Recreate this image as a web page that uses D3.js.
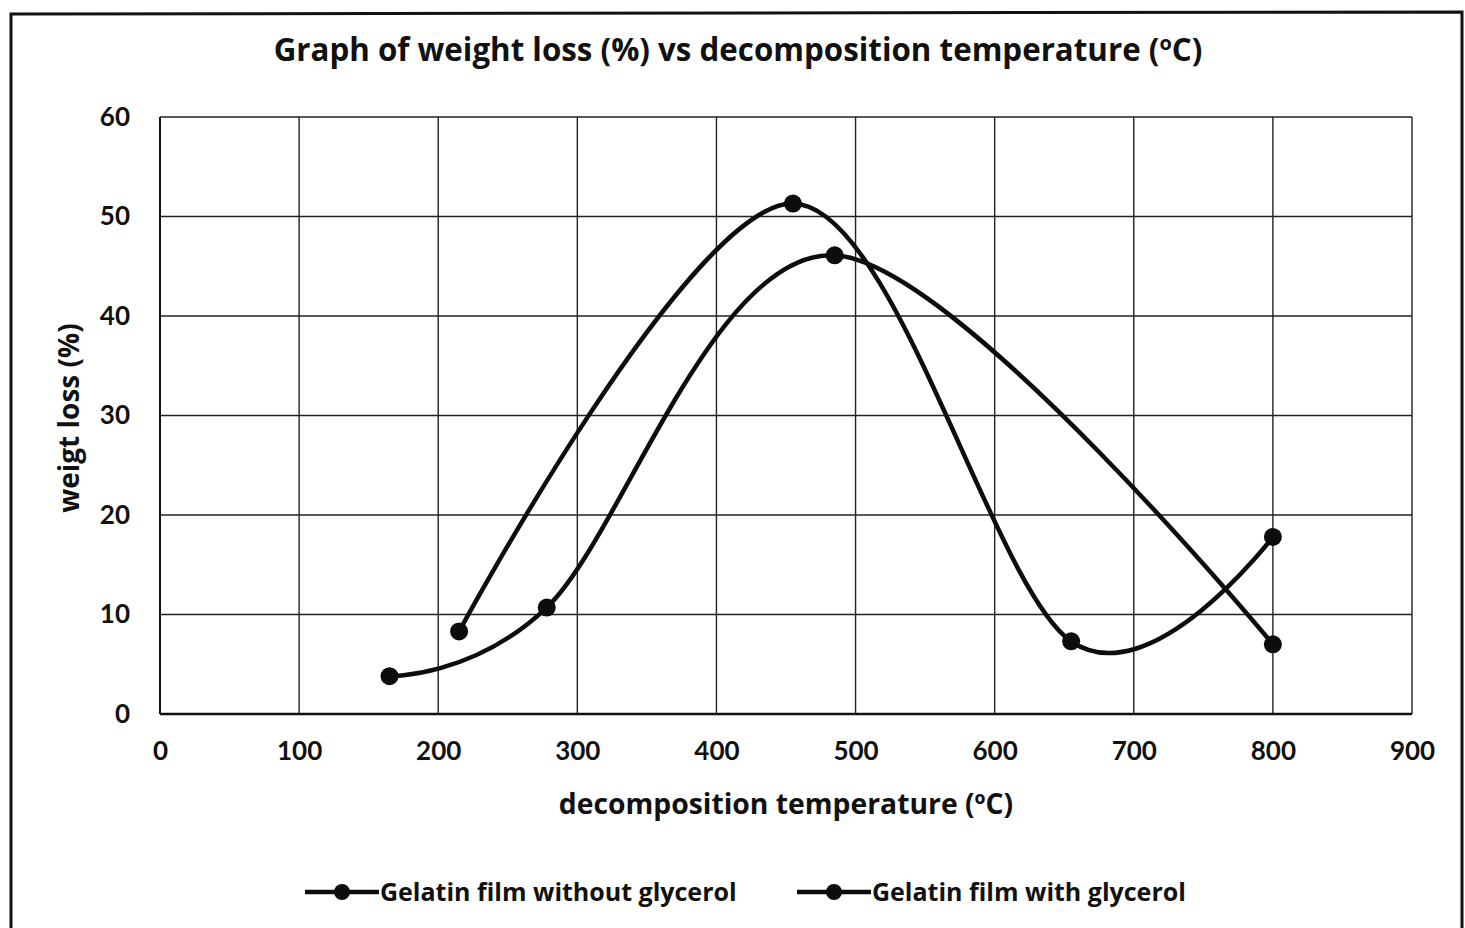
<html>
<head>
  <script src="https://d3js.org/d3.v7.min.js"></script>
  <style>
    body { margin: 0; background: #fff; }
    text { font-family: "Open Sans", Lato, sans-serif; font-weight: bold; fill: #111; }
  </style>
</head>
<body>
  <div id="chart"></div>
  <script>
    const xTicks = [0, 100, 200, 300, 400, 500, 600, 700, 800, 900];
    const yTicks = [0, 10, 20, 30, 40, 50, 60];

    const withoutTemp = [215, 455, 655, 800];
    const withoutLoss = [8.3, 51.3, 7.3, 17.8];
    const withTemp = [165, 278, 485, 800];
    const withLoss = [3.8, 10.7, 46.1, 7.0];

    const seriesNames = ["Gelatin film without glycerol", "Gelatin film with glycerol"];

    const w = 1465, h = 928;
    const plotLeft = 160, plotRight = 1412, plotTop = 117, plotBottom = 714;

    const svg = d3.select("#chart").append("svg")
      .attr("width", w).attr("height", h);

    // outer frame
    svg.append("path")
      .attr("d", "M11,935 L11,14 L1462,12 L1462,935")
      .attr("fill", "none").attr("stroke", "#111").attr("stroke-width", 3);

    const xScale = d3.scaleLinear().domain([0, 900]).range([plotLeft, plotRight]);
    const yScale = d3.scaleLinear().domain([0, 60]).range([plotBottom, plotTop]);

    // grid
    svg.append("g").selectAll("line").data(xTicks).enter().append("line")
      .attr("x1", d => xScale(d)).attr("x2", d => xScale(d))
      .attr("y1", plotTop).attr("y2", plotBottom)
      .attr("stroke", "#222").attr("stroke-width", 1.4);
    svg.append("g").selectAll("line").data(yTicks).enter().append("line")
      .attr("x1", plotLeft).attr("x2", plotRight)
      .attr("y1", d => yScale(d)).attr("y2", d => yScale(d))
      .attr("stroke", "#222").attr("stroke-width", 1.4);
    svg.append("line")
      .attr("x1", plotLeft).attr("x2", plotRight).attr("y1", plotBottom).attr("y2", plotBottom)
      .attr("stroke", "#111").attr("stroke-width", 2.5);
    svg.append("line")
      .attr("x1", plotLeft).attr("x2", plotLeft).attr("y1", plotTop).attr("y2", plotBottom)
      .attr("stroke", "#111").attr("stroke-width", 2);

    // axes labels
    const xAxis = d3.axisBottom(xScale).tickValues(xTicks).tickSize(0).tickPadding(28);
    const yAxis = d3.axisLeft(yScale).tickValues(yTicks).tickSize(0).tickPadding(30);
    const gx = svg.append("g").attr("transform", "translate(0," + plotBottom + ")").call(xAxis);
    const gy = svg.append("g").attr("transform", "translate(" + plotLeft + ",0)").call(yAxis);
    [gx, gy].forEach(g => {
      g.select(".domain").remove();
      g.selectAll("text").style("font-size", "26px").style("font-family", "Lato, 'Open Sans', sans-serif")
        .style("font-weight", "bold").attr("fill", "#111");
    });

    // titles
    const title = svg.append("text").attr("x", 738).attr("y", 61)
      .attr("text-anchor", "middle").style("font-size", "31.3px")
      .text("Graph of weight loss (%) vs decomposition temperature (");
    title.append("tspan").attr("dy", -11).style("font-size", "20px").text("o");
    title.append("tspan").attr("dy", 11).text("C)");

    svg.append("text").attr("x", 786).attr("y", 814)
      .attr("text-anchor", "middle").style("font-size", "28.3px")
      .text("decomposition temperature (\u00BAC)");

    svg.append("text")
      .attr("transform", "translate(79,418) rotate(-90)")
      .attr("text-anchor", "middle").style("font-size", "28px")
      .text("weigt loss (%)");

    // series
    const series = [
      withoutTemp.map((t, i) => [t, withoutLoss[i]]),
      withTemp.map((t, i) => [t, withLoss[i]])
    ];
    const line = d3.line()
      .x(d => xScale(d[0])).y(d => yScale(d[1]))
      .curve(d3.curveCardinal.tension(0));

    series.forEach(s => {
      svg.append("path").datum(s)
        .attr("d", line).attr("fill", "none")
        .attr("stroke", "#0d0d0d").attr("stroke-width", 4.5);
      svg.append("g").selectAll("circle").data(s).enter().append("circle")
        .attr("cx", d => xScale(d[0])).attr("cy", d => yScale(d[1]))
        .attr("r", 9).attr("fill", "#0d0d0d");
    });

    // legend
    const legendX = [305, 797];
    const legend = svg.selectAll(".legend").data(seriesNames).enter().append("g")
      .attr("class", "legend")
      .attr("transform", (d, i) => "translate(" + legendX[i] + ",892)");
    legend.append("line").attr("x1", 0).attr("x2", 74).attr("y1", 0).attr("y2", 0)
      .attr("stroke", "#0d0d0d").attr("stroke-width", 4.5);
    legend.append("circle").attr("cx", 37).attr("cy", 0).attr("r", 8).attr("fill", "#0d0d0d");
    legend.append("text").attr("x", 75).attr("y", 9)
      .style("font-size", "25px").text(d => d);
  </script>
</body>
</html>
